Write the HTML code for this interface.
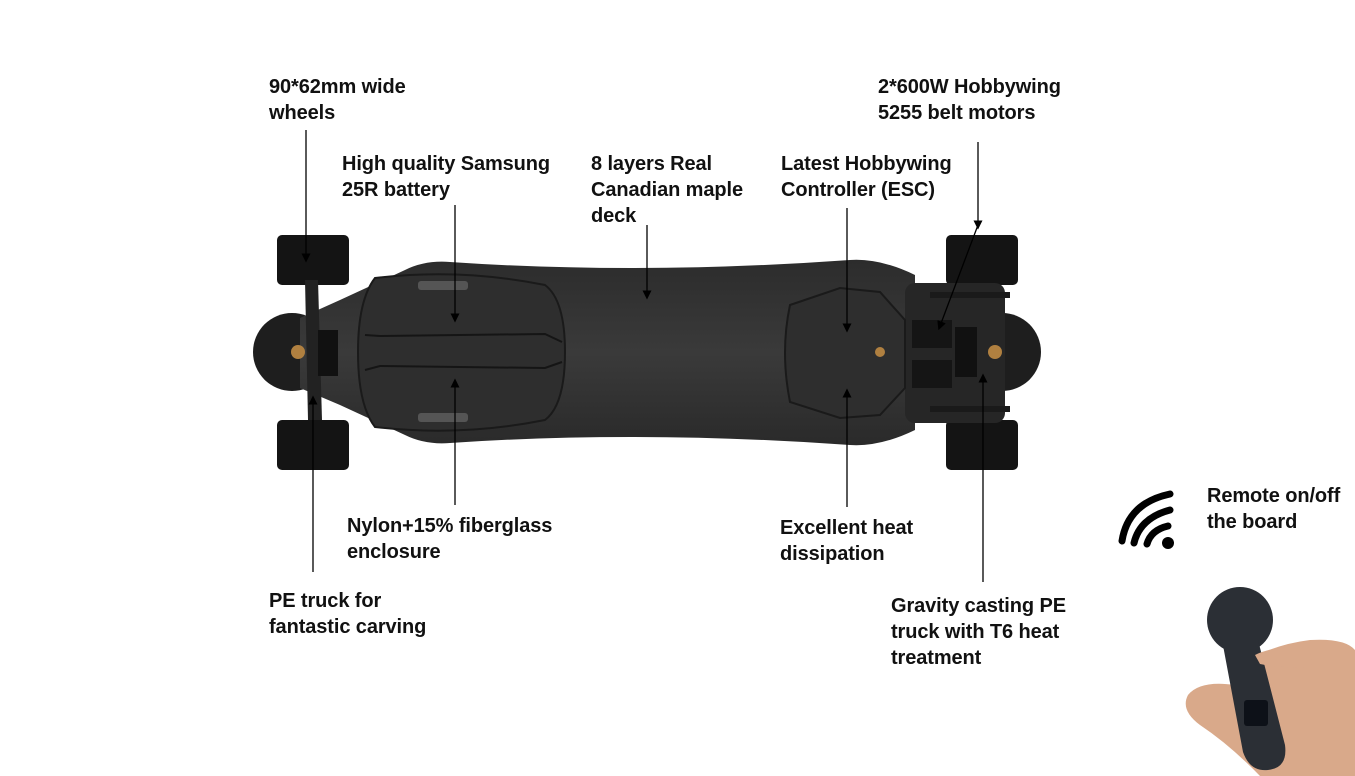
<!DOCTYPE html>
<html><head><meta charset="utf-8"><style>
body{margin:0;background:#fff;width:1355px;height:776px;overflow:hidden;position:relative;font-family:"Liberation Sans",sans-serif}
.t{position:absolute;font-size:20px;line-height:26px;color:#111;font-weight:bold;letter-spacing:-0.1px}
svg{position:absolute;left:0;top:0}
</style></head><body>
<svg width="1355" height="776" viewBox="0 0 1355 776">
<defs>
<marker id="a" markerWidth="7" markerHeight="7" refX="3.5" refY="3.5" orient="auto"><path d="M0,0 L7,3.5 L0,7 z" fill="#000"/></marker>
<linearGradient id="dk" x1="0" y1="0" x2="0" y2="1"><stop offset="0" stop-color="#2c2c2c"/><stop offset="0.5" stop-color="#3a3a3a"/><stop offset="1" stop-color="#2a2a2a"/></linearGradient>
</defs>
<rect x="277" y="235" width="72" height="50" rx="5" fill="#141414"/>
<rect x="277" y="420" width="72" height="50" rx="5" fill="#141414"/>
<rect x="946" y="235" width="72" height="50" rx="5" fill="#141414"/>
<rect x="946" y="420" width="72" height="50" rx="5" fill="#141414"/>
<circle cx="292" cy="352" r="39" fill="#1e1e1e"/>
<circle cx="1002" cy="352" r="39" fill="#1e1e1e"/>
<path d="M300,318 L340,300 L405,270 Q425,260 450,262 Q640,275 850,260 Q880,258 915,275 L915,430 Q880,447 850,445 Q640,430 450,443 Q425,445 405,435 L340,405 L300,388 Z" fill="url(#dk)"/>
<rect x="905" y="283" width="100" height="140" rx="10" fill="#262626"/>
<rect x="912" y="320" width="40" height="28" fill="#151515"/>
<rect x="912" y="360" width="40" height="28" fill="#151515"/>
<rect x="955" y="327" width="22" height="50" fill="#111"/>
<rect x="930" y="292" width="80" height="6" fill="#1a1a1a"/>
<rect x="930" y="406" width="80" height="6" fill="#1a1a1a"/>
<circle cx="995" cy="352" r="7" fill="#b08040"/>
<path d="M305,280 L318,280 L322,420 L308,420 Z" fill="#222"/>
<rect x="318" y="330" width="20" height="46" fill="#111"/>
<circle cx="298" cy="352" r="7" fill="#b08040"/>
<path d="M375,278 Q460,268 545,285 Q565,300 565,352 Q565,405 545,420 Q460,437 375,427 Q358,405 358,352 Q358,300 375,278 Z" fill="#2e2e2e" stroke="#1a1a1a" stroke-width="2"/>
<path d="M365,335 L380,336 L545,334 L562,342" fill="none" stroke="#151515" stroke-width="2"/>
<path d="M365,370 L380,366 L545,368 L562,362" fill="none" stroke="#151515" stroke-width="2"/>
<rect x="418" y="281" width="50" height="9" rx="3" fill="#555"/>
<rect x="418" y="413" width="50" height="9" rx="3" fill="#555"/>
<path d="M790,305 L840,288 L880,292 L905,320 L905,388 L880,415 L840,418 L790,402 Q780,352 790,305 Z" fill="#2e2e2e" stroke="#1a1a1a" stroke-width="2"/>
<circle cx="880" cy="352" r="5" fill="#b08040"/>
<g stroke="#000" stroke-width="1.3" fill="none" marker-end="url(#a)">
<line x1="306" y1="130" x2="306" y2="258"/>
<line x1="455" y1="205" x2="455" y2="318"/>
<line x1="647" y1="225" x2="647" y2="295"/>
<line x1="847" y1="208" x2="847" y2="328"/>
<line x1="978" y1="142" x2="978" y2="225"/>
<line x1="978" y1="225" x2="940" y2="326"/>
<line x1="313" y1="572" x2="313" y2="400"/>
<line x1="455" y1="505" x2="455" y2="383"/>
<line x1="847" y1="507" x2="847" y2="393"/>
<line x1="983" y1="582" x2="983" y2="378"/>
</g>
<g fill="none" stroke="#000" stroke-width="7" stroke-linecap="round">
<path d="M1122,541 Q1128,503 1170,494"/>
<path d="M1134,543 Q1140,518 1170,510"/>
<path d="M1147,544 Q1151,530 1168,526"/>
</g>
<circle cx="1168" cy="543" r="6" fill="#000"/>
<path d="M1240,665 Q1270,645 1310,640 Q1345,638 1355,650 L1355,776 L1260,776 Q1230,745 1200,725 Q1180,710 1188,695 Q1200,680 1235,685 Z" fill="#d9a98a"/>
<circle cx="1240" cy="620" r="33" fill="#2b2f35"/>
<path d="M1222,640 L1258,640 L1285,745 Q1288,768 1268,770 Q1250,772 1243,752 Z" fill="#2b2f35"/>
<rect x="1244" y="700" width="24" height="26" rx="3" fill="#0d1118"/>
<path d="M1255,655 Q1275,645 1310,648 L1312,668 Q1280,668 1260,664 Z" fill="#d9a98a"/>
</svg>
<div class="t" style="left:269px;top:74px">90*62mm wide<br>wheels</div>
<div class="t" style="left:342px;top:151px">High quality Samsung<br>25R battery</div>
<div class="t" style="left:591px;top:151px">8 layers Real<br>Canadian maple<br>deck</div>
<div class="t" style="left:781px;top:151px">Latest Hobbywing<br>Controller (ESC)</div>
<div class="t" style="left:878px;top:74px">2*600W Hobbywing<br>5255 belt motors</div>
<div class="t" style="left:347px;top:513px">Nylon+15% fiberglass<br>enclosure</div>
<div class="t" style="left:780px;top:515px">Excellent heat<br>dissipation</div>
<div class="t" style="left:269px;top:588px">PE truck for<br>fantastic carving</div>
<div class="t" style="left:891px;top:593px">Gravity casting PE<br>truck with T6 heat<br>treatment</div>
<div class="t" style="left:1207px;top:483px">Remote on/off<br>the board</div>
</body></html>
